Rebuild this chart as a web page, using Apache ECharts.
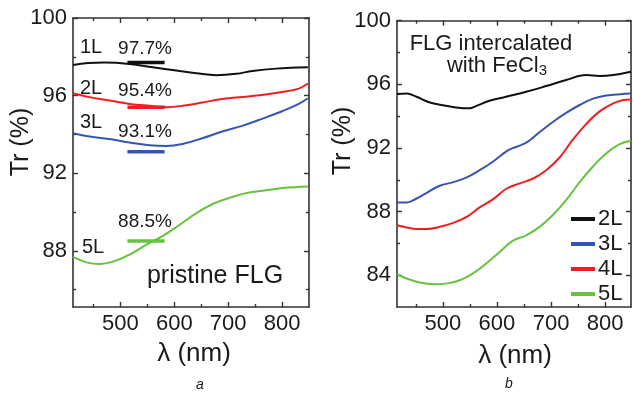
<!DOCTYPE html>
<html>
<head>
<meta charset="utf-8">
<script src="https://cdn.jsdelivr.net/npm/echarts@6/dist/echarts.min.js"></script>
<style>
  html, body { margin: 0; padding: 0; background: #fff; }
  #chart { width: 633px; height: 394px; }
</style>
</head>
<body>
<div id="chart"></div>
<script>
// ---- Panel a: pristine few-layer graphene, transmittance vs wavelength ----
const pristine1L_nm = [412, 440, 470, 517, 560, 604, 641, 678, 715, 745, 789, 848];
const pristine1L_tr = [97.58, 97.68, 97.70, 97.63, 97.46, 97.29, 97.15, 97.05, 97.12, 97.27, 97.39, 97.46];

const pristine2L_nm = [412, 443, 483, 517, 554, 585, 615, 652, 689, 726, 763, 800, 831, 848];
const pristine2L_tr = [96.12, 95.92, 95.73, 95.57, 95.47, 95.40, 95.47, 95.64, 95.82, 95.93, 96.03, 96.18, 96.36, 96.62];

const pristine3L_nm = [412, 443, 483, 517, 554, 585, 615, 652, 689, 726, 763, 800, 831, 848];
const pristine3L_tr = [94.06, 93.89, 93.75, 93.58, 93.44, 93.40, 93.50, 93.80, 94.15, 94.44, 94.80, 95.19, 95.57, 95.86];

const pristine5L_nm = [412, 437, 461, 486, 517, 548, 579, 610, 641, 671, 702, 733, 764, 801, 848];
const pristine5L_tr = [87.68, 87.40, 87.32, 87.44, 87.80, 88.31, 88.77, 89.34, 89.94, 90.41, 90.72, 90.97, 91.09, 91.23, 91.31];

// Quoted transmittance for each layer count, drawn as a short bar over this span
const barLayers = ['1L', '2L', '3L', '5L'];
const barValues = [97.7, 95.4, 93.1, 88.5];
const barSpanNm = [513, 582];

// ---- Panel b: FLG intercalated with FeCl3 ----
const fecl2L_nm = [415, 433, 451, 476, 500, 524, 549, 561, 586, 617, 654, 691, 728, 765, 790, 815, 848];
const fecl2L_tr = [95.39, 95.43, 95.22, 94.86, 94.69, 94.55, 94.49, 94.63, 94.97, 95.22, 95.53, 95.89, 96.27, 96.58, 96.52, 96.58, 96.79];

const fecl3L_nm = [415, 433, 451, 470, 494, 519, 544, 568, 593, 618, 630, 642, 655, 667, 679, 704, 728, 753, 778, 803, 828, 848];
const fecl3L_tr = [88.57, 88.57, 88.82, 89.18, 89.62, 89.85, 90.15, 90.60, 91.15, 91.80, 92.00, 92.15, 92.35, 92.65, 93.00, 93.65, 94.20, 94.70, 95.10, 95.30, 95.38, 95.42];

const fecl4L_nm = [415, 433, 451, 470, 494, 519, 544, 568, 593, 618, 642, 667, 691, 716, 740, 765, 790, 815, 832, 848];
const fecl4L_tr = [87.14, 87.00, 86.91, 86.91, 87.04, 87.29, 87.67, 88.26, 88.78, 89.45, 89.77, 90.08, 90.60, 91.40, 92.50, 93.50, 94.30, 94.80, 95.00, 95.05];

const fecl5L_nm = [415, 433, 457, 482, 506, 531, 555, 580, 605, 629, 654, 679, 703, 728, 753, 778, 802, 827, 848];
const fecl5L_tr = [84.06, 83.79, 83.54, 83.43, 83.47, 83.68, 84.10, 84.73, 85.46, 86.16, 86.51, 87.04, 87.77, 88.72, 89.85, 90.85, 91.65, 92.24, 92.45];

const legendNames = ['2L', '3L', '4L', '5L'];

// ---- Tick values ----
const xTicksMajor = [500, 600, 700, 800];
const xTicksMinor = [450, 550, 650, 750];
const yTicksA = [88, 92, 96, 100];
const yMinorA = [86, 90, 94, 98];
const yTicksB = [84, 88, 92, 96, 100];
const yMinorB = [86, 90, 94, 98];

const FONT = '"Liberation Sans", Arial, Helvetica, sans-serif';
const AXIS_COLOR = '#333';
const TEXT_COLOR = '#1a1a1a';
const COL = { black: '#111111', red: '#f01e1e', blue: '#3655b0', green: '#66c23f' };

const zip = (xs, ys) => xs.map((x, i) => [x, ys[i]]);

// One scale, drawn as several axes: labelled major ticks plus shorter minor ticks,
// mirrored on the opposite side of the frame.
function makeAxes(gridIndex, min, max, major, minor, sides) {
  const axes = [];
  sides.forEach((pos, s) => {
    [true, false].forEach(isMajor => {
      axes.push({
        type: 'value', gridIndex, min, max, position: pos,
        axisLine: { show: isMajor, onZero: false, lineStyle: { color: AXIS_COLOR, width: 1.6 } },
        axisTick: {
          show: true, inside: true, length: isMajor ? 5 : 3,
          customValues: isMajor ? major : minor,
          lineStyle: { color: AXIS_COLOR, width: 1.4 }
        },
        axisLabel: {
          show: isMajor && s === 0, customValues: major,
          fontSize: 22, fontFamily: FONT, color: TEXT_COLOR, margin: 6
        },
        splitLine: { show: false }
      });
    });
  });
  return axes;
}

const xAxis = [
  ...makeAxes(0, 412, 850, xTicksMajor, xTicksMinor, ['bottom', 'top']),   // 0..3
  ...makeAxes(1, 415, 848, xTicksMajor, xTicksMinor, ['bottom', 'top'])    // 4..7
];
const yAxis = [
  ...makeAxes(0, 85.1, 100, yTicksA, yMinorA, ['left', 'right']),          // 0..3
  ...makeAxes(1, 82, 100, yTicksB, yMinorB, ['left', 'right'])             // 4..7
];

function curve(name, nm, tr, color, panel) {
  return {
    name, type: 'line', xAxisIndex: panel * 4, yAxisIndex: panel * 4,
    data: zip(nm, tr), smooth: 0.4, showSymbol: false, symbol: 'none',
    lineStyle: { color, width: 2 }, itemStyle: { color }, z: 3
  };
}

const barColors = [COL.black, COL.red, COL.blue, COL.green];

const series = [
  curve('pristine 1L', pristine1L_nm, pristine1L_tr, COL.black, 0),
  curve('pristine 2L', pristine2L_nm, pristine2L_tr, COL.red, 0),
  curve('pristine 3L', pristine3L_nm, pristine3L_tr, COL.blue, 0),
  curve('pristine 5L', pristine5L_nm, pristine5L_tr, COL.green, 0),
  ...barValues.map((v, i) => ({
    name: 'bar ' + barLayers[i], type: 'line', xAxisIndex: 0, yAxisIndex: 0,
    data: barSpanNm.map(x => [x, v]), showSymbol: false, symbol: 'none',
    lineStyle: { color: barColors[i], width: 3.5 }, z: 4
  })),
  curve('2L', fecl2L_nm, fecl2L_tr, COL.black, 1),
  curve('3L', fecl3L_nm, fecl3L_tr, COL.blue, 1),
  curve('4L', fecl4L_nm, fecl4L_tr, COL.red, 1),
  curve('5L', fecl5L_nm, fecl5L_tr, COL.green, 1)
];

function txt(x, y, text, size, extra) {
  return Object.assign({
    type: 'text', x, y,
    style: Object.assign({
      text, font: size + 'px ' + FONT, fill: TEXT_COLOR,
      align: 'left', verticalAlign: 'middle'
    }, (extra && extra.style) || {})
  }, extra ? { rotation: extra.rotation || 0 } : {});
}

// Annotation layout for panel a: layer tags and the quoted percentages
const tagPos = [[80, 47], [80, 88], [80, 122], [82, 247]];
const pctPos = [[145, 49], [145, 91], [145, 132], [145, 222]];

const graphic = [
  ...barLayers.map((t, i) => txt(tagPos[i][0], tagPos[i][1], t, 20)),
  ...barValues.map((v, i) => txt(pctPos[i][0], pctPos[i][1], v.toFixed(1) + '%', 19, { style: { align: 'center' } })),
  txt(215, 276, 'pristine FLG', 25, { style: { align: 'center' } }),
  txt(491, 44, 'FLG intercalated', 22, { style: { align: 'center' } }),
  {
    type: 'text', x: 497, y: 66,
    style: {
      text: 'with FeCl{sub|3}', font: '22px ' + FONT, fill: TEXT_COLOR,
      align: 'center', verticalAlign: 'middle',
      rich: { sub: { fontSize: 15, fontFamily: FONT, padding: [10, 0, 0, 0] } }
    }
  },
  txt(21, 142, 'Tr (%)', 25, { rotation: Math.PI / 2, style: { align: 'center' } }),
  txt(343, 141, 'Tr (%)', 25, { rotation: Math.PI / 2, style: { align: 'center' } }),
  txt(194, 354, 'λ (nm)', 26, { style: { align: 'center' } }),
  txt(515, 356, 'λ (nm)', 26, { style: { align: 'center' } }),
  txt(200, 385, 'a', 14, { style: { align: 'center', font: 'italic 14px ' + FONT } }),
  txt(509, 384, 'b', 14, { style: { align: 'center', font: 'italic 14px ' + FONT } })
];

const chart = echarts.init(document.getElementById('chart'), null, { renderer: 'canvas' });
chart.setOption({
  animation: false,
  backgroundColor: '#fff',
  grid: [
    { left: 73, right: 324, top: 18, bottom: 87, containLabel: false },
    { left: 397, right: 2, top: 20.7, bottom: 87, containLabel: false }
  ],
  xAxis, yAxis, series, graphic,
  legend: {
    data: legendNames, orient: 'vertical', left: 566, top: 203,
    icon: 'rect', itemWidth: 24, itemHeight: 4, itemGap: 3,
    textStyle: { fontSize: 22, fontFamily: FONT, color: TEXT_COLOR, padding: [0, 0, 0, -2] },
    selectedMode: false
  }
});
</script>
</body>
</html>
